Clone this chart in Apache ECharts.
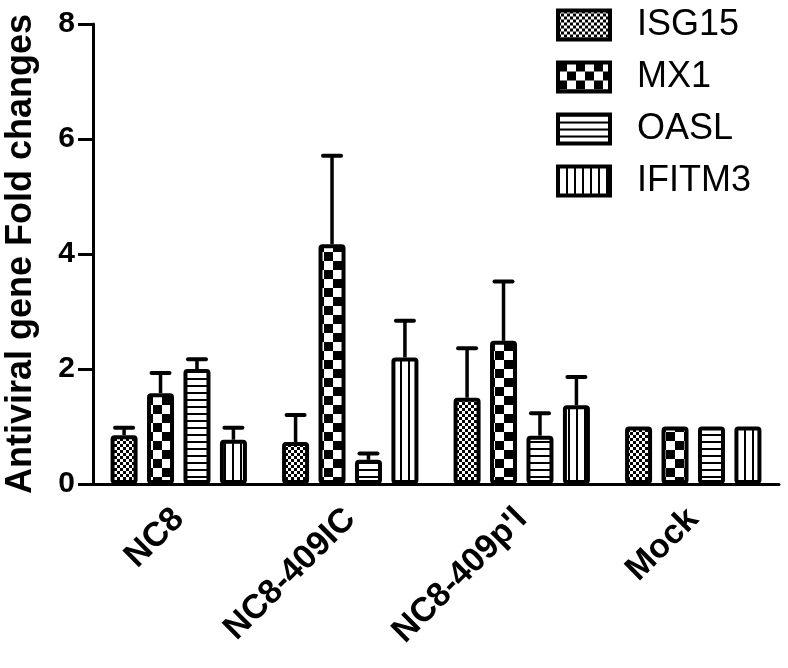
<!DOCTYPE html>
<html>
<head>
<meta charset="utf-8">
<script src="https://cdn.jsdelivr.net/npm/echarts@6/dist/echarts.min.js"></script>
<style>
  html, body { margin: 0; padding: 0; background: #fff; }
  #chart { width: 788px; height: 668px; }
</style>
</head>
<body>
<div id="chart"></div>
<script>
// groups on the x axis
const categories = ['NC8', 'NC8-409IC', "NC8-409p'l", 'Mock'];
const genes = ['ISG15', 'MX1', 'OASL', 'IFITM3'];

// mean fold changes
const isg15 = [0.85, 0.73, 1.5, 1.0];
const mx1 = [1.58, 4.17, 2.49, 1.0];
const oasl = [2.0, 0.42, 0.84, 1.0];
const ifitm3 = [0.77, 2.2, 1.37, 1.0];

// upper error (SD)
const isg15Err = [0.13, 0.47, 0.86, 0];
const mx1Err = [0.35, 1.54, 1.03, 0];
const oaslErr = [0.17, 0.11, 0.39, 0];
const ifitm3Err = [0.21, 0.64, 0.49, 0];

const yTicks = [0, 2, 4, 6, 8];

const FONT = '"Liberation Sans", Arial, sans-serif';
const BAR_W = 27;
const BAR_GAP = 0.35;

// little canvas tiles for the hatch fills
function tile(w, h, draw) {
  const c = document.createElement('canvas');
  c.width = w;
  c.height = h;
  const ctx = c.getContext('2d');
  ctx.fillStyle = '#fff';
  ctx.fillRect(0, 0, w, h);
  ctx.fillStyle = '#000';
  draw(ctx);
  return { image: c, repeat: 'repeat' };
}

const patterns = [
  // fine checker
  tile(6, 6, (ctx) => {
    ctx.fillRect(0, 0, 3, 3);
    ctx.fillRect(3, 3, 3, 3);
  }),
  // coarse checker
  tile(18, 18, (ctx) => {
    ctx.fillRect(0, 0, 9, 9);
    ctx.fillRect(9, 9, 9, 9);
  }),
  // horizontal lines
  tile(4, 7, (ctx) => {
    ctx.fillRect(0, 0, 4, 2);
  }),
  // vertical lines
  tile(8, 4, (ctx) => {
    ctx.fillRect(0, 0, 2, 4);
  }),
];

const means = [isg15, mx1, oasl, ifitm3];
const errs = [isg15Err, mx1Err, oaslErr, ifitm3Err];

function barSeries(i) {
  return {
    name: genes[i],
    type: 'bar',
    barWidth: BAR_W,
    barGap: BAR_GAP * 100 + '%',
    data: means[i],
    itemStyle: {
      color: patterns[i],
      borderColor: '#000',
      borderWidth: 4,
      borderRadius: 2,
    },
    z: 3,
  };
}

function errSeries(i) {
  const step = BAR_W * (1 + BAR_GAP);
  const offset = (i - 1.5) * step;
  return {
    name: genes[i] + ' err',
    type: 'custom',
    data: means[i].map((m, k) => [k, m, errs[i][k]]),
    encode: { x: 0, y: 1 },
    z: 2,
    renderItem(params, api) {
      const e = api.value(2);
      if (!e) return null;
      const base = api.coord([api.value(0), api.value(1)]);
      const cap = api.coord([api.value(0), api.value(1) + e]);
      const x = base[0] + offset;
      return {
        type: 'group',
        children: [
          {
            type: 'line',
            shape: { x1: x, y1: base[1], x2: x, y2: cap[1] },
            style: { stroke: '#000', lineWidth: 3.5 },
          },
          {
            type: 'line',
            shape: { x1: x - 9, y1: cap[1], x2: x + 9, y2: cap[1] },
            style: { stroke: '#000', lineWidth: 4, lineCap: 'round' },
          },
        ],
      };
    },
  };
}

const chart = echarts.init(document.getElementById('chart'));
chart.setOption({
  animation: false,
  textStyle: { fontFamily: FONT },
  grid: { left: 93, right: 9, top: 24, bottom: 184, containLabel: false, outerBoundsMode: 'none' },
  legend: {
    data: genes,
    orient: 'vertical',
    left: 556,
    top: 7,
    padding: 0,
    itemWidth: 52,
    itemHeight: 29,
    itemGap: 16,
    icon: 'rect',
    itemStyle: { borderWidth: 4, borderColor: '#000' },
    textStyle: {
      fontFamily: FONT,
      fontSize: 36,
      color: '#000',
      padding: [0, 0, 0, 22],
    },
  },
  xAxis: {
    type: 'category',
    data: categories,
    axisLine: { lineStyle: { color: '#000', width: 3 } },
    axisTick: { alignWithLabel: true, length: 13, lineStyle: { color: '#000', width: 3 } },
    axisLabel: {
      rotate: 45,
      margin: 30,
      color: '#000',
      fontFamily: FONT,
      fontWeight: 'bold',
      fontSize: 34,
    },
  },
  yAxis: {
    type: 'value',
    min: yTicks[0],
    max: yTicks[yTicks.length - 1],
    interval: 2,
    name: 'Antiviral gene Fold changes',
    nameLocation: 'middle',
    nameGap: 54,
    nameTextStyle: { color: '#000', fontFamily: FONT, fontWeight: 'bold', fontSize: 36 },
    axisLine: { show: true, lineStyle: { color: '#000', width: 3 } },
    axisTick: { show: true, length: 15, lineStyle: { color: '#000', width: 3 } },
    axisLabel: { color: '#000', fontFamily: FONT, fontWeight: 'bold', fontSize: 30, margin: 18 },
    splitLine: { show: false },
  },
  series: [0, 1, 2, 3].map(barSeries).concat([0, 1, 2, 3].map(errSeries)),
});
</script>
</body>
</html>
